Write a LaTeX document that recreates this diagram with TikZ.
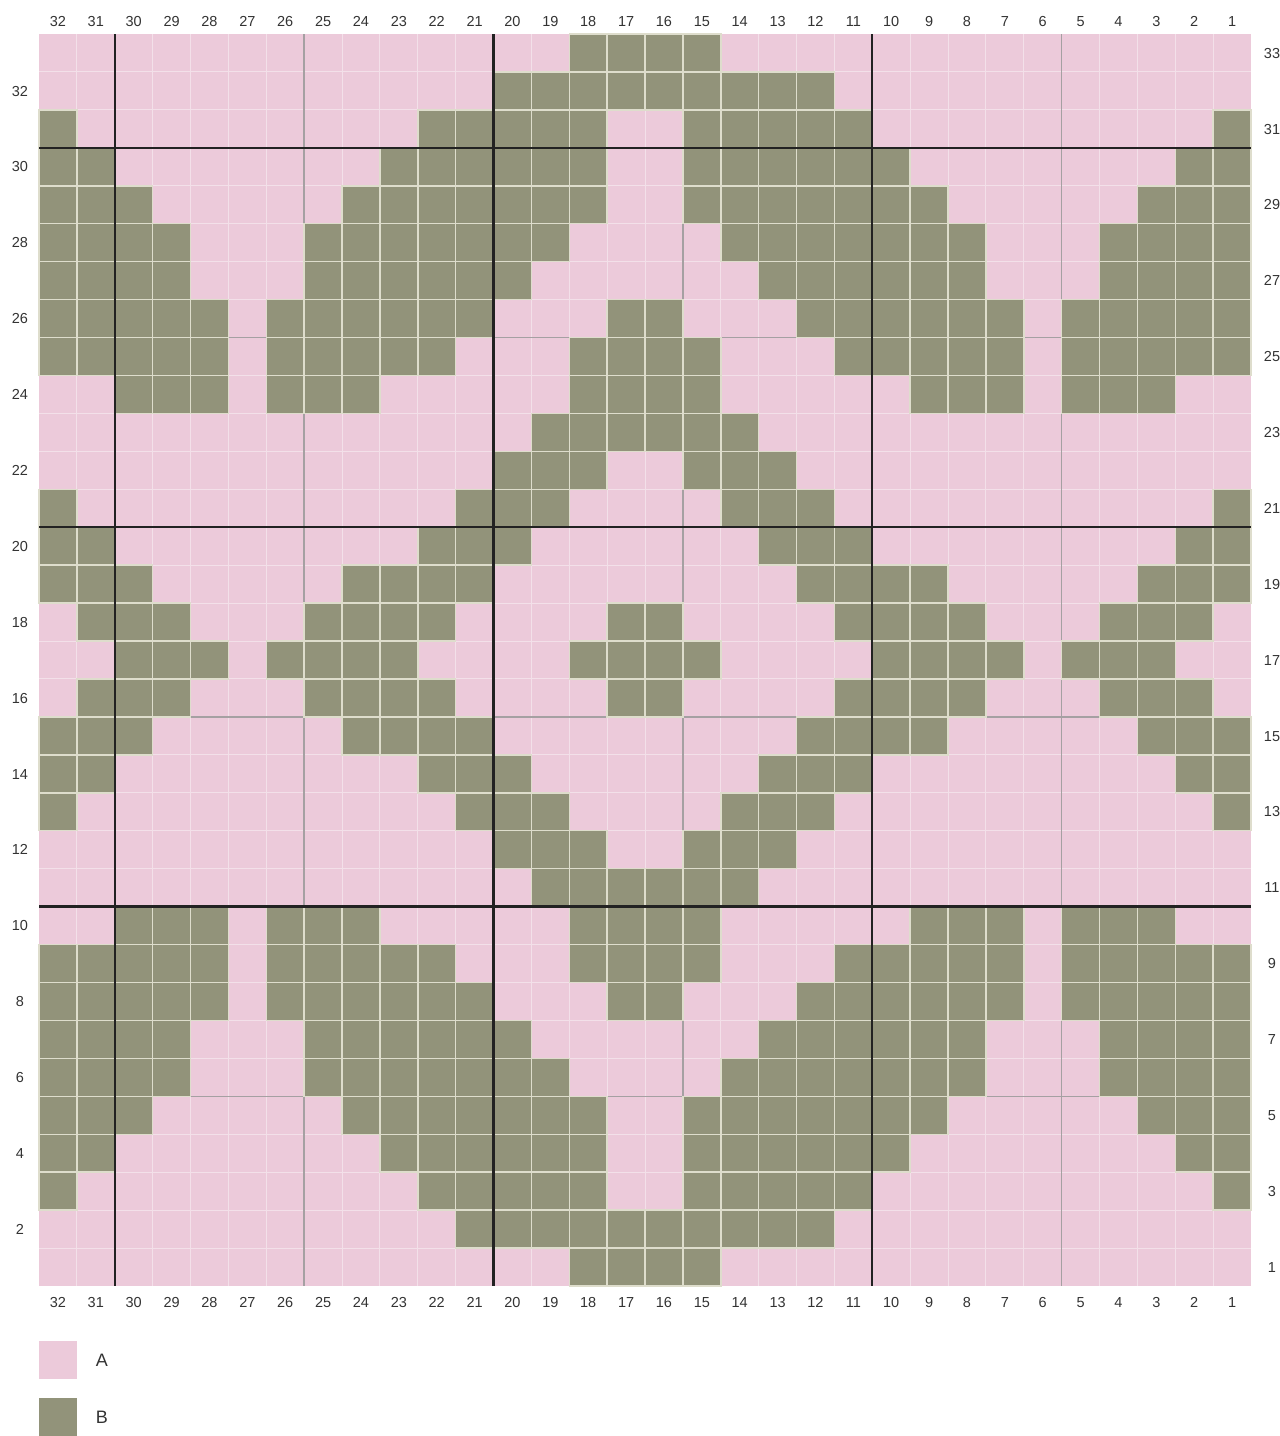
\documentclass[tikz,border=0pt]{standalone}
\usepackage{fontspec}
\setmainfont{Liberation Sans}
\usepackage{xstring}
\definecolor{pinkA}{RGB}{236,202,218}
\definecolor{greenB}{RGB}{146,147,122}
\definecolor{gridP}{RGB}{243,224,233}
\definecolor{gridG}{RGB}{222,221,204}
\definecolor{midln}{RGB}{165,160,162}
\definecolor{thickln}{RGB}{34,34,34}
\definecolor{lbl}{RGB}{51,51,51}
% rows, top (row 33) to bottom (row 1); leftmost char = column 32
\def\rowA{00000000000000111100000000000000}% 33
\def\rowB{00000000000011111111100000000000}% 32
\def\rowC{10000000001111100111110000000001}% 31
\def\rowD{11000000011111100111111000000011}% 30
\def\rowE{11100000111111100111111100000111}% 29
\def\rowF{11110001111111000011111110001111}% 28
\def\rowG{11110001111110000001111110001111}% 27
\def\rowH{11111011111100011000111111011111}% 26
\def\rowI{11111011111000111100011111011111}% 25
\def\rowJ{00111011100000111100000111011100}% 24
\def\rowK{00000000000001111110000000000000}% 23
\def\rowL{00000000000011100111000000000000}% 22
\def\rowM{10000000000111000011100000000001}% 21
\def\rowN{11000000001110000001110000000011}% 20
\def\rowO{11100000111100000000111100000111}% 19
\def\rowP{01110001111000011000011110001110}% 18
\def\rowQ{00111011110000111100001111011100}% 17
\def\rowR{00000000000111111111100000000000}% 2
\begin{document}
\begin{tikzpicture}[x=1pt,y=-1pt,
  numlbl/.style={font=\fontsize{14.5}{16}\selectfont, text=lbl, inner sep=0pt, text height=10.4pt, text depth=0pt, anchor=center},
  leglbl/.style={font=\fontsize{18}{20}\selectfont, text=lbl, inner sep=0pt, text height=12.9pt, text depth=0pt, anchor=center},
  swatch/.style={minimum width=38pt, minimum height=38pt, inner sep=0pt, draw=none},
  gridline/.style={draw=gridP, line width=1pt},
  midline/.style={draw=midln, line width=1.4pt},
  thickline/.style={draw=thickln, line width=2.4pt},
  bcell/.style={fill=greenB, draw=gridG, line width=1.5pt}]
\useasboundingbox (0,0) rectangle (1280,1436);
\fill[white] (0,0) rectangle (1280,1436);
\def\GL{39}\def\GT{34}\def\GR{1251}\def\GB{1286}
\def\CW{37.875}\def\CH{37.9394}
% background colour A
\fill[pinkA] (\GL,\GT) rectangle (\GR,\GB);
% faint grid on A
\foreach \i in {1,...,31} \draw[gridline] ({\GL+\i*\CW},\GT) -- ({\GL+\i*\CW},\GB);
\foreach \j in {1,...,32} \draw[gridline] (\GL,{\GT+\j*\CH}) -- (\GR,{\GT+\j*\CH});
% medium lines
\foreach \i in {7,17,27} \draw[midline] ({\GL+\i*\CW},\GT) -- ({\GL+\i*\CW},\GB);
\foreach \j in {8,18,28} \draw[midline] (\GL,{\GT+\j*\CH}) -- (\GR,{\GT+\j*\CH});
% colour B cells
\foreach \j/\s in {1/\rowA,2/\rowB,3/\rowC,4/\rowD,5/\rowE,6/\rowF,7/\rowG,8/\rowH,9/\rowI,10/\rowJ,11/\rowK,12/\rowL,13/\rowM,14/\rowN,15/\rowO,16/\rowP,17/\rowQ,18/\rowP,19/\rowO,20/\rowN,21/\rowM,22/\rowL,23/\rowK,24/\rowJ,25/\rowI,26/\rowH,27/\rowG,28/\rowF,29/\rowE,30/\rowD,31/\rowC,32/\rowR,33/\rowA}{
  \foreach \i in {1,...,32}{
    \StrChar{\s}{\i}[\ch]
    \if1\ch
      \filldraw[bcell] ({\GL+(\i-1)*\CW},{\GT+(\j-1)*\CH}) rectangle ++(\CW,\CH);
    \fi
  }
}
% thick lines
\foreach \i in {2,12,22} \draw[thickline] ({\GL+\i*\CW},\GT) -- ({\GL+\i*\CW},\GB);
\foreach \j in {3,13,23} \draw[thickline] (\GL,{\GT+\j*\CH}) -- (\GR,{\GT+\j*\CH});
% column numbers
\foreach \c in {1,...,32}{
  \node[numlbl] (ct\c) at ({\GL+(32-\c+0.5)*\CW},21) {\c};
  \node[numlbl] (cb\c) at ({\GL+(32-\c+0.5)*\CW},1302) {\c};
}
% row numbers
\foreach \r in {2,4,...,32} \node[numlbl] (rl\r) at (20,{\GT+(33-\r+0.5)*\CH}) {\r};
\foreach \r in {1,3,...,33} \node[numlbl] (rr\r) at (1272,{\GT+(33-\r+0.5)*\CH}) {\r};
% legend
\node[swatch, fill=pinkA] (swA) at (58,1360) {};
\node[leglbl] (lA) at (102,1360) {A};
\node[swatch, fill=greenB] (swB) at (58,1417) {};
\node[leglbl] (lB) at (102,1417) {B};
\end{tikzpicture}
\end{document}
